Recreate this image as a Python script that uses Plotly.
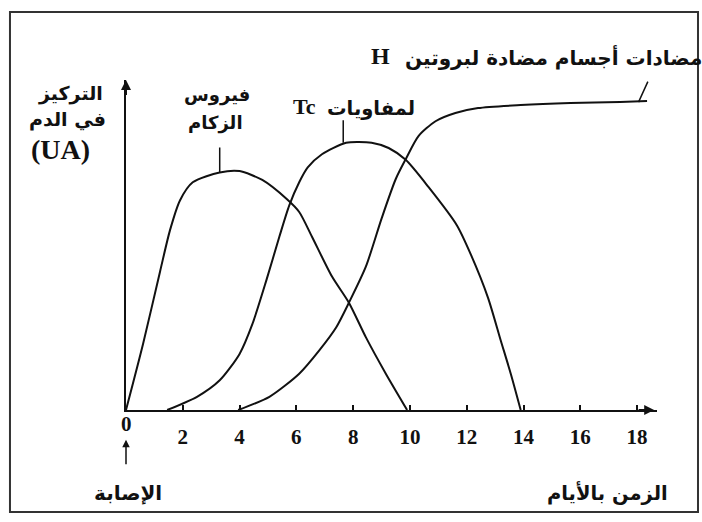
import numpy as np
import plotly.graph_objects as go

# Time in days and concentration (arbitrary units)
virus_days = [0, 0.6, 1.2, 1.55, 1.9, 2.35, 3.3, 4.0, 4.8, 5.65, 6.1, 6.55,
              7.25, 7.85, 8.45, 9.15, 9.9]
virus_conc = [0, 20, 42, 54.5, 63.5, 69, 72, 72.4, 69.7, 64, 60, 52.5,
              40.5, 32.5, 22, 11, 0]

tc_days = [1.45, 2.5, 3.3, 4.0, 4.45, 4.95, 5.4, 5.75, 6.1, 6.4, 6.9, 7.75,
           8.65, 9.25, 9.85, 10.65, 11.65, 12.15, 12.75, 13.2, 13.55, 13.9]
tc_conc = [0, 4, 9, 17, 26, 39.5, 52.5, 62, 69, 73.5, 77.5, 81,
           81, 79.4, 75.8, 67.6, 56, 47, 34, 21, 11, 0]

h_days = [3.95, 5.05, 6.1, 6.8, 7.4, 7.85, 8.45, 9.0, 9.5, 9.85, 10.3, 10.9,
          11.6, 12.4, 13.9, 15.65, 17.4, 18.35]
h_conc = [0, 4, 11, 18, 25, 32.5, 43.5, 58, 70, 76, 83, 87.5,
          90, 91.5, 92.4, 93, 93.3, 93.6]

x_ticks = [0, 2, 4, 6, 8, 10, 12, 14, 16, 18]
x_labels = ["", "2", "4", "6", "8", "10", "12", "14", "16", "18"]

X_MAX = 18.7
Y_MAX = 100

ARABIC = "DejaVu Sans"
SERIF = "Liberation Serif"
INK = "#111111"


def _paper(x, y):
    # data units -> paper fractions, for text that sits outside the axes
    return x / X_MAX, y / Y_MAX


fig = go.Figure()

for days, conc in [(virus_days, virus_conc), (tc_days, tc_conc), (h_days, h_conc)]:
    fig.add_trace(
        go.Scatter(
            x=days,
            y=conc,
            mode="lines",
            line=dict(color=INK, width=2, shape="spline", smoothing=0.7),
            cliponaxis=False,
            showlegend=False,
            hoverinfo="skip",
        )
    )

# leader lines from the labels down to the curves
i_virus = int(np.argmax(virus_conc))
i_tc = int(np.argmax(tc_conc))
leaders = [
    (virus_days[i_virus] - 0.7, virus_conc[i_virus] - 0.3, 0, -26),
    (tc_days[i_tc] - 0.1, tc_conc[i_tc], 0, -24),
    (h_days[-1] - 0.3, h_conc[-1] - 0.3, 10, -22),
]
for lx, ly, dx, dy in leaders:
    fig.add_annotation(
        x=lx, y=ly, ax=dx, ay=dy, text="", showarrow=True,
        arrowhead=0, arrowwidth=1.5, arrowcolor=INK, standoff=0,
    )

# axis arrow heads
fig.add_annotation(
    x=18.6, y=0, ax=18.0, ay=0, axref="x", ayref="y", text="",
    showarrow=True, arrowhead=2, arrowsize=1, arrowwidth=2, arrowcolor=INK,
)
fig.add_annotation(
    x=0, y=100, ax=0, ay=95, axref="x", ayref="y", text="",
    showarrow=True, arrowhead=2, arrowsize=1, arrowwidth=2, arrowcolor=INK,
)
# infection arrow under day 0
px0, py0 = _paper(0, -9)
fig.add_annotation(
    x=px0, y=py0, xref="paper", yref="paper", ax=0, ay=26, text="",
    showarrow=True, arrowhead=2, arrowsize=1, arrowwidth=1.5, arrowcolor=INK,
)

texts = [
    (15.04, 107.0, "مضادات أجسام مضادة لبروتين", ARABIC, 20),
    (8.98, 107.3, "H", SERIF, 24),
    (8.63, 91.5, "لمفاويات", ARABIC, 19.5),
    (6.30, 92.0, "Tc", SERIF, 22),
    (3.19, 95.5, "فيروس", ARABIC, 18),
    (3.15, 87.0, "الزكام", ARABIC, 18),
    (-1.95, 96.0, "التركيز", ARABIC, 19),
    (-2.05, 88.0, "في الدم", ARABIC, 19),
    (-2.32, 78.8, "(UA)", SERIF, 28),
    (0.0, -4.3, "0", SERIF, 21),
    (0.07, -25.0, "الإصابة", ARABIC, 20),
    (16.95, -25.0, "الزمن بالأيام", ARABIC, 19.5),
]
for tx, ty, label, family, size in texts:
    px, py = _paper(tx, ty)
    fig.add_annotation(
        x=px, y=py, xref="paper", yref="paper", text=label, showarrow=False,
        xanchor="center", yanchor="middle",
        font=dict(family=family, size=size, color=INK, weight="bold"),
    )

# frame around the whole picture
fig.add_shape(
    type="rect", xref="paper", yref="paper",
    x0=-0.2185, x1=1.0772, y0=-0.309, y1=1.206,
    line=dict(color="#333333", width=2),
)

fig.update_xaxes(
    range=[0, X_MAX],
    tickvals=x_ticks,
    ticktext=x_labels,
    ticks="inside",
    ticklen=5,
    tickwidth=1.5,
    tickcolor=INK,
    showline=True,
    linecolor=INK,
    linewidth=2,
    showgrid=False,
    zeroline=False,
    tickfont=dict(family=SERIF, size=21, color=INK, weight="bold"),
    ticklabelstandoff=7,
)
fig.update_yaxes(
    range=[0, Y_MAX],
    showticklabels=False,
    ticks="",
    showline=True,
    linecolor=INK,
    linewidth=2,
    showgrid=False,
    zeroline=False,
)

fig.update_layout(
    width=702,
    height=522,
    margin=dict(l=126, r=45, t=80, b=112),
    paper_bgcolor="white",
    plot_bgcolor="white",
)

fig.write_html(
    "out.html",
    config={"displayModeBar": False},
    post_script="document.body.style.margin='0px';",
)
